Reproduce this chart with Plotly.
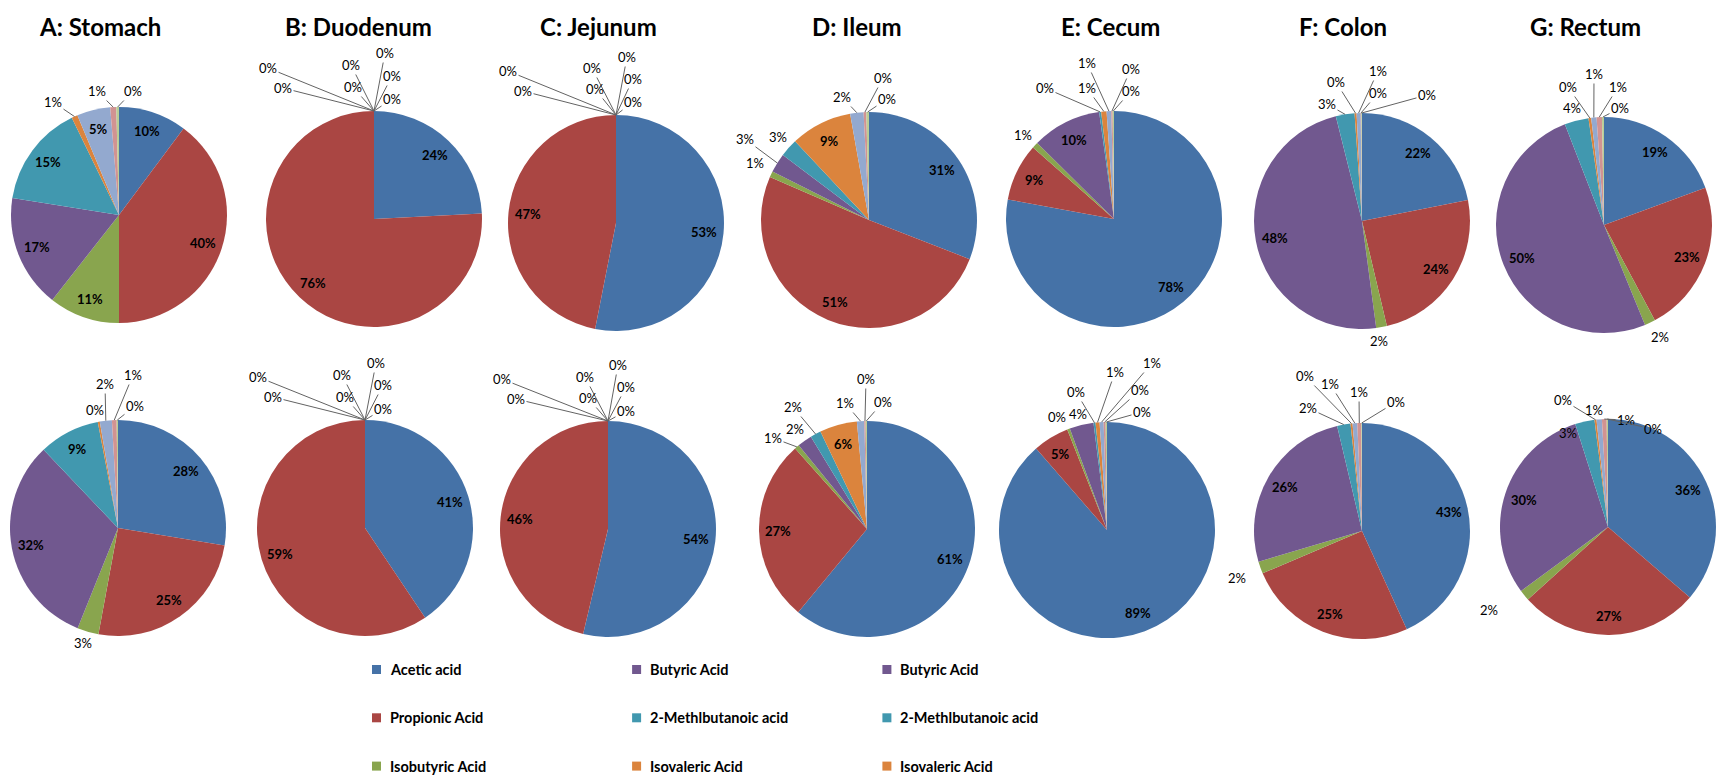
import math
import plotly.graph_objects as go

W, H = 1721, 780
R = 108  # pie radius in px

acids = ["Acetic acid", "Propionic Acid", "Isobutyric Acid", "Butyric Acid",
         "2-Methlbutanoic acid", "Isovaleric Acid", "Valeric acid",
         "Isocaproic acid", "Caproic acid"]
acid_colors = ["#4572A7", "#AA4643", "#89A54E", "#71588F", "#4198AF",
               "#DB843D", "#93A9CF", "#D19392", "#B9CD96"]

panel_titles = ["A: Stomach", "B: Duodenum", "C: Jejunum", "D: Ileum",
                "E: Cecum", "F: Colon", "G: Rectum"]

# relative abundance (%) per gut segment, upper row
stomach_1 = [10.2, 39.8, 10.6, 16.9, 15.3, 0.9, 5.0, 0.9, 0.4]
duodenum_1 = [24.2, 75.8, 0, 0, 0, 0, 0, 0, 0]
jejunum_1 = [53.1, 46.9, 0, 0, 0, 0, 0, 0, 0]
ileum_1 = [30.9, 50.6, 0.9, 2.9, 2.7, 9.2, 2.0, 0.4, 0.4]
cecum_1 = [77.9, 8.6, 0.9, 10.4, 0.3, 0.8, 0.7, 0.2, 0.2]
colon_1 = [21.9, 24.4, 1.6, 48.2, 2.8, 0.3, 0.6, 0.1, 0.1]
rectum_1 = [19.4, 22.8, 1.6, 50.3, 3.6, 0.4, 0.8, 0.8, 0.3]

# relative abundance (%) per gut segment, lower row
stomach_2 = [27.6, 25.3, 3.2, 31.8, 9.1, 0.3, 1.8, 0.7, 0.2]
duodenum_2 = [40.6, 59.4, 0, 0, 0, 0, 0, 0, 0]
jejunum_2 = [53.7, 46.3, 0, 0, 0, 0, 0, 0, 0]
ileum_2 = [61.0, 27.4, 0.7, 2.2, 1.6, 5.6, 1.1, 0.2, 0.2]
cecum_2 = [88.6, 5.4, 0.4, 3.6, 0.3, 0.6, 0.6, 0.3, 0.2]
colon_2 = [43.2, 25.4, 1.8, 25.9, 2.0, 0.3, 0.7, 0.6, 0.1]
rectum_2 = [36.3, 27.0, 1.6, 30.2, 2.9, 0.3, 0.8, 0.7, 0.2]

legend_labels = ["Acetic acid", "Propionic Acid", "Isobutyric Acid",
                 "Butyric Acid", "2-Methlbutanoic acid", "Isovaleric Acid",
                 "Butyric Acid", "2-Methlbutanoic acid", "Isovaleric Acid"]
legend_colors = ["#4572A7", "#AA4643", "#89A54E",
                 "#71588F", "#4198AF", "#DB843D",
                 "#71588F", "#4198AF", "#DB843D"]

# ---- layout (pixel positions) ----
title_x = [100, 358, 598, 857, 1110, 1343, 1585]
title_y = 27
centers_top = [(119, 215), (374, 219), (616, 223), (869, 220),
               (1114, 219), (1362, 221), (1604, 225)]
centers_bot = [(118, 528), (365, 528), (608, 529), (867, 529),
               (1107, 530), (1362, 531), (1608, 527)]

zero_fan = [(-106, -151, True), (-91, -131, True), (-23, -154, True),
            (-21, -132, True), (11, -166, True), (18, -143, True),
            (18, -120, True)]

# outside label placement (dx, dy from pie centre, leader line)
outside_top = [
    [(-66, -113, True), (-22, -124, True), (14, -124, True)],
    zero_fan,
    [(-108, -152, True), (-93, -132, True), (-24, -155, True),
     (-21, -134, True), (11, -166, True), (17, -144, True), (17, -121, True)],
    [(-114, -57, False), (-124, -81, True), (-91, -83, False),
     (-27, -123, True), (14, -142, True), (18, -121, True)],
    [(-91, -84, False), (-69, -131, True), (-27, -131, True),
     (-27, -156, True), (17, -150, True), (17, -128, True)],
    [(17, 120, False), (-35, -117, True), (-26, -139, True),
     (16, -150, True), (16, -128, True), (65, -126, True)],
    [(56, 112, False), (-32, -117, False), (-36, -138, True),
     (-10, -151, True), (14, -138, True), (16, -117, True)],
]
outside_bot = [
    [(-35, 115, False), (-23, -118, False), (-13, -144, True),
     (15, -153, True), (17, -122, True)],
    [(-107, -151, True), (-92, -131, True), (-23, -153, True),
     (-20, -131, True), (11, -165, True), (18, -143, True), (18, -119, True)],
    [(-106, -150, True), (-92, -130, True), (-23, -152, True),
     (-20, -131, True), (10, -164, True), (18, -142, True), (18, -118, True)],
    [(-94, -91, True), (-72, -100, False), (-74, -122, True),
     (-22, -126, True), (-1, -150, True), (16, -127, True)],
    [(-50, -113, False), (-29, -116, False), (-31, -138, True),
     (8, -158, True), (45, -167, True), (33, -140, True), (35, -118, True)],
    [(-125, 47, False), (-54, -123, True), (-57, -155, True),
     (-32, -147, True), (-3, -139, True), (34, -129, True)],
    [(-119, 83, False), (-40, -94, False), (-45, -127, True),
     (-14, -117, True), (18, -107, True), (45, -98, True)],
]

rows = [
    ([stomach_1, duodenum_1, jejunum_1, ileum_1, cecum_1, colon_1, rectum_1],
     centers_top, outside_top),
    ([stomach_2, duodenum_2, jejunum_2, ileum_2, cecum_2, colon_2, rectum_2],
     centers_bot, outside_bot),
]

FONT = "Lato, 'Open Sans', sans-serif"
TXT = "#000000"


def px(x):
    return x / W


def py(y):
    return 1 - y / H


fig = go.Figure()
annotations = []
shapes = []

for values_list, centers, outside in rows:
    for values, (cx, cy), out_pos in zip(values_list, centers, outside):
        fig.add_trace(go.Pie(
            labels=acids, values=values, sort=False, direction="clockwise",
            rotation=0, marker=dict(colors=acid_colors, line=dict(width=0)),
            textinfo="none", showlegend=False,
            domain=dict(x=[px(cx - R), px(cx + R)], y=[py(cy + R), py(cy - R)]),
        ))
        total = sum(values)
        cum = 0.0
        k = 0
        for v in values:
            mid = math.radians((cum + v / 2) / total * 360)
            cum += v
            pct = round(v / total * 100)
            text = f"{pct}%"
            if pct >= 5:
                lx = cx + 0.82 * R * math.sin(mid)
                ly = cy - 0.82 * R * math.cos(mid)
                annotations.append(dict(
                    x=px(lx), y=py(ly), xref="paper", yref="paper",
                    text=f"<b>{text}</b>", showarrow=False,
                    font=dict(family=FONT, size=13, color=TXT),
                    xanchor="center", yanchor="middle"))
            else:
                dx, dy, line = out_pos[k]
                k += 1
                lx, ly = cx + dx, cy + dy
                if line:
                    tx = cx + R * math.sin(mid)
                    ty = cy - R * math.cos(mid)
                    annotations.append(dict(
                        x=px(tx), y=py(ty), xref="paper", yref="paper",
                        ax=lx - tx, ay=ly - ty, axref="pixel", ayref="pixel",
                        text=text, showarrow=True, xanchor="center",
                        yanchor="middle",
                        arrowhead=0, arrowwidth=1, arrowcolor="#636363",
                        standoff=0, startstandoff=0,
                        font=dict(family=FONT, size=13, color=TXT)))
                else:
                    annotations.append(dict(
                        x=px(lx), y=py(ly), xref="paper", yref="paper",
                        text=text, showarrow=False,
                        font=dict(family=FONT, size=13, color=TXT),
                        xanchor="center", yanchor="middle"))

# panel titles
for t, tx in zip(panel_titles, title_x):
    annotations.append(dict(
        x=px(tx), y=py(title_y), xref="paper", yref="paper",
        text=f"<b>{t}</b>", showarrow=False,
        font=dict(family=FONT, size=24, color=TXT),
        xanchor="center", yanchor="middle"))

# legend: three columns of three entries
leg_col_x = [376.5, 636.6, 886.9]
leg_row_y = [669.5, 717.8, 766.1]
box = 9
for i, (lab, col) in enumerate(zip(legend_labels, legend_colors)):
    mx = leg_col_x[i // 3]
    my = leg_row_y[i % 3]
    shapes.append(dict(
        type="rect", xref="paper", yref="paper",
        x0=px(mx - box / 2), x1=px(mx + box / 2),
        y0=py(my + box / 2), y1=py(my - box / 2),
        fillcolor=col, line=dict(width=0)))
    annotations.append(dict(
        x=px(mx + 11), y=py(my), xref="paper", yref="paper",
        text=f"<b>{lab}</b>", showarrow=False,
        font=dict(family=FONT, size=14.5, color=TXT),
        xanchor="left", yanchor="middle"))

fig.update_layout(
    width=W, height=H, margin=dict(l=0, r=0, t=0, b=0),
    paper_bgcolor="white", plot_bgcolor="white",
    annotations=annotations, shapes=shapes,
)

fig.write_html("out.html")
